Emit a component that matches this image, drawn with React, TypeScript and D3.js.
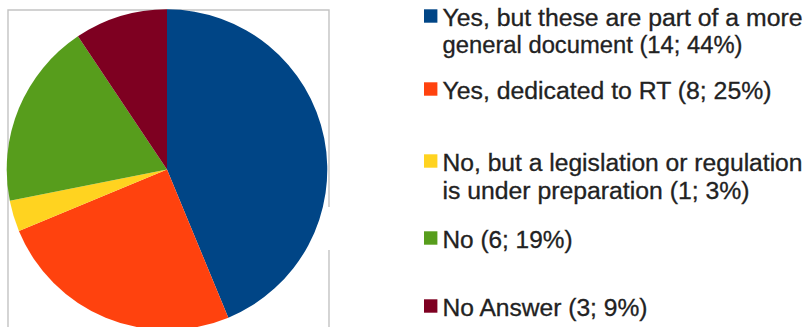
import React from "react";
import * as d3 from "d3";

const categories = [
  "Yes, but these are part of a more general document",
  "Yes, dedicated to RT",
  "No, but a legislation or regulation is under preparation",
  "No",
  "No Answer",
];
const counts = [14, 8, 1, 6, 3];
const percents = ["44%", "25%", "3%", "19%", "9%"];
const colors = ["#004586", "#ff420e", "#ffd320", "#579d1c", "#7e0021"];
const legendLines = [
  ["Yes, but these are part of a more", "general document (14; 44%)"],
  ["Yes, dedicated to RT (8; 25%)"],
  ["No, but a legislation or regulation", "is under preparation (1; 3%)"],
  ["No (6; 19%)"],
  ["No Answer (3; 9%)"],
];

// layout
const W = 811;
const H = 327;
const cx = 167;
const cy = 169.6;
const R = 160.3;
const legendBaselines = [[26, 53], [99], [171, 199], [248], [316]];
const legendWidths = [[360, 300], [329], [360, 307], [130], [205]];

export default function App() {
  const data = categories.map((c, i) => ({ name: c, value: counts[i], color: colors[i] }));
  const pie = d3.pie<any>().sort(null).value((d: any) => d.value);
  const arcs = pie(data);
  const arcGen = d3.arc<any>().innerRadius(0).outerRadius(R);
  const frame = d3.path();
  frame.moveTo(8, H);
  frame.lineTo(8, 10);
  frame.lineTo(329, 10);
  frame.lineTo(329, 207);
  frame.moveTo(329, 250);
  frame.lineTo(329, H);

  return (
    <svg
      width={W}
      height={H}
      style={{ position: "absolute", left: 0, top: 0, background: "#fff" }}
      fontFamily="'Liberation Sans', Arial, sans-serif"
    >
      <rect x={0} y={0} width={W} height={H} fill="#fff" />
      <path d={frame.toString()} fill="none" stroke="#c3c3c3" strokeWidth={1.4} />
      <g transform={`translate(${cx},${cy})`}>
        {arcs.map((a, i) => (
          <path key={i} d={arcGen(a) as string} fill={colors[i]} />
        ))}
      </g>
      <g>
        {legendLines.map((lines, i) => {
          const b0 = legendBaselines[i][0];
          return (
            <g key={i}>
              <rect x={424} y={b0 - 16.7} width={13.4} height={13.4} fill={colors[i]} />
              {lines.map((t, j) => (
                <text
                  key={j}
                  x={442.5}
                  y={legendBaselines[i][j]}
                  fontSize={23}
                  fill="#222222"
                  stroke="#222222"
                  strokeWidth={0.3}
                  textLength={legendWidths[i][j]}
                  lengthAdjust="spacingAndGlyphs"
                >
                  {t}
                </text>
              ))}
            </g>
          );
        })}
      </g>
    </svg>
  );
}
